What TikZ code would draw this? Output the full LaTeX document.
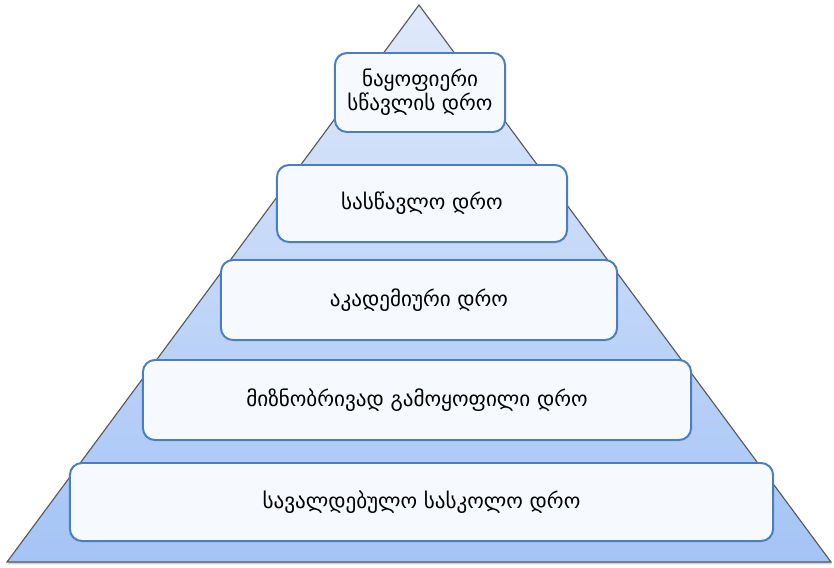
\documentclass[tikz,border=0pt]{standalone}
\usepackage{fontspec}
\newfontfamily\geofont{DejaVu Sans}
\usetikzlibrary{shadows}

\definecolor{tritop}{RGB}{224,233,250}
\definecolor{tribot}{RGB}{164,196,246}
\definecolor{triline}{RGB}{88,88,88}
\definecolor{boxline}{RGB}{74,126,193}
\definecolor{boxfill}{RGB}{246,249,254}

\begin{document}
\begin{tikzpicture}[x=0.025cm, y=-0.025cm,
    level/.style={rectangle, rounded corners=0.3cm, draw=boxline, line width=1.4pt, fill=boxfill, align=center, font=\geofont\fontsize{15}{15.5}\selectfont}]
    \useasboundingbox (0,0) rectangle (834,567);

    \coordinate (apex) at (419,5);
    \coordinate (bl) at (7,562);
    \coordinate (br) at (831,562);
    \path[drop shadow={opacity=0.35, shadow xshift=0.6pt, shadow yshift=-1.6pt}, top color=tritop, bottom color=tribot, draw=triline, line width=0.8pt] (apex) -- (br) -- (bl) -- cycle;

    \node[level, minimum width=4.25cm, minimum height=1.975cm] (fruitful) at (420,92.5) {ნაყოფიერი\\სწავლის დრო};
    \node[level, minimum width=7.25cm, minimum height=1.925cm] (learning) at (422,203.5) {სასწავლო დრო};
    \node[level, minimum width=9.9cm, minimum height=2cm] (academic) at (419,300) {აკადემიური დრო};
    \node[level, minimum width=13.7cm, minimum height=2cm] (allocated) at (417,400) {მიზნობრივად გამოყოფილი დრო};
    \node[level, minimum width=17.575cm, minimum height=1.95cm] (mandatory) at (421.5,502) {სავალდებულო სასკოლო დრო};
\end{tikzpicture}
\end{document}
